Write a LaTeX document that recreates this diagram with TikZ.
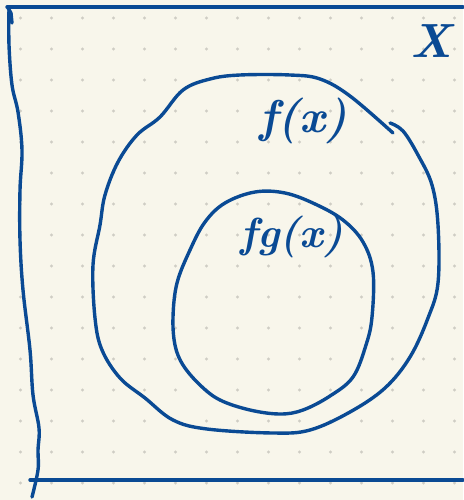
\documentclass[tikz,border=0pt]{standalone}
\usepackage{fontspec}
\usepackage{tikz}
\usepackage{xcolor}
\definecolor{paper}{HTML}{F8F6EB}
\definecolor{ink}{HTML}{0A4A94}
\definecolor{dotgray}{HTML}{CFCDC4}

\begin{document}
\begin{tikzpicture}[x=1pt, y=-1pt,
  pen/.style={draw=ink, line width=3.4pt, line cap=round, line join=round},
  lbl/.style={text=ink, inner sep=0pt}]
  % paper and dot grid
  \fill[paper] (0,0) rectangle (463,500);
  \useasboundingbox (0,0) rectangle (463,500);
  \foreach \i in {0,...,14}
    \foreach \j in {0,...,15}
      \fill[dotgray] (20.5+31*\i, 18+31*\j) circle (1.6);

  % frame of X
  \coordinate (tl) at (7,7);
  \coordinate (tr) at (463,7);
  \coordinate (bl) at (30,480);
  \coordinate (br) at (463,480);
  \draw[pen] (tl) -- (tr);
  \draw[pen] (bl) -- (br);
  \draw[pen] (8,8) -- (11,13) -- (12,23);
  \draw[pen] plot[smooth, tension=0.6] coordinates {(9,9) (9,45) (12,85)
    (18,112) (22,150) (20,190) (20,240) (23,290) (30,350)
    (33,395) (39,428) (38,450) (38,470) (32,497)};

  % f(X)
  \draw[pen] plot[smooth, tension=0.6] coordinates {(390,123) (403,131)
    (418,155) (432,185) (438,225) (438,283) (428,318) (410,357) (385,388)
    (350,412) (310,430) (273,433) (207,429) (173,420) (145,398) (120,378)
    (102,350) (95,318) (93,265) (100,225) (105,195) (118,162) (137,135)
    (160,117) (183,90) (210,79) (240,75) (290,75) (320,79) (350,96)
    (393,133)};

  % fg(X)
  \draw[pen] plot[smooth cycle, tension=0.6] coordinates {(173,317) (177,283)
    (190,250) (205,222) (225,203) (255,192) (285,193) (315,204) (343,220)
    (363,242) (373,272) (372,317) (366,345) (353,377) (330,396) (303,410)
    (280,414) (250,410) (220,400) (200,385) (183,365) (175,345)};

  % labels
  \node[lbl, font=\fontsize{48}{48}\selectfont\bfseries\itshape] (setx) at (431,41) {X};
  \node[lbl, font=\fontsize{46}{46}\selectfont\bfseries\itshape] (fx) at (303,121) {f(x)};
  \node[lbl, font=\fontsize{42}{42}\selectfont\bfseries\itshape] (fgx) at (292,237) {fg(x)};
\end{tikzpicture}
\end{document}
